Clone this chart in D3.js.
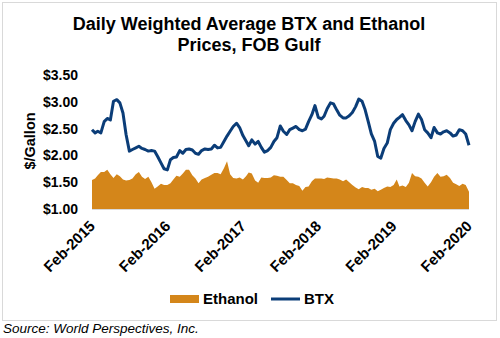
<!DOCTYPE html>
<html>
<head>
<meta charset="utf-8">
<script src="https://cdn.jsdelivr.net/npm/d3@7"></script>
<style>
  body { margin: 0; background: #fff; }
  svg { display: block; font-family: "Liberation Sans", Arial, sans-serif; }
</style>
</head>
<body>
<svg width="500" height="338"></svg>
<script>
// half-month samples starting 1 Feb 2015 (1st and 16th of each month)
const START = new Date(2015, 1, 1)
const btx = [
  2.48, 2.42, 2.45, 2.42, 2.63, 2.69, 2.66, 3.01, 3.04, 2.98,
  2.79, 2.39, 2.08, 2.11, 2.14, 2.17, 2.13, 2.11, 2.08, 2.09,
  2.08, 1.98, 1.86, 1.75, 1.73, 1.92, 1.96, 1.97, 2.09, 2.04,
  2.11, 2.12, 2.10, 2.04, 2.02, 2.09, 2.12, 2.11, 2.12, 2.19,
  2.14, 2.15, 2.26, 2.36, 2.45, 2.54, 2.60, 2.52, 2.37, 2.27,
  2.18, 2.29, 2.21, 2.26, 2.15, 2.06, 2.09, 2.15, 2.26, 2.33,
  2.55, 2.45, 2.39, 2.48, 2.51, 2.54, 2.48, 2.46, 2.49, 2.63,
  2.76, 2.93, 2.71, 2.68, 2.73, 2.87, 2.98, 2.96, 2.85, 2.75,
  2.70, 2.70, 2.74, 2.80, 2.91, 3.05, 3.01, 2.85, 2.63, 2.40,
  2.26, 1.98, 1.95, 2.13, 2.23, 2.48, 2.60, 2.67, 2.71, 2.76,
  2.65, 2.57, 2.46, 2.63, 2.77, 2.67, 2.48, 2.42, 2.33, 2.52,
  2.42, 2.40, 2.44, 2.46, 2.42, 2.36, 2.38, 2.48, 2.46, 2.40,
  2.19
]
const ethanol = [
  1.54, 1.57, 1.63, 1.69, 1.69, 1.73, 1.65, 1.58, 1.65, 1.61,
  1.55, 1.53, 1.54, 1.57, 1.65, 1.69, 1.60, 1.56, 1.60, 1.50,
  1.38, 1.42, 1.47, 1.45, 1.45, 1.48, 1.55, 1.62, 1.60, 1.66,
  1.73, 1.73, 1.63, 1.57, 1.48, 1.55, 1.58, 1.60, 1.64, 1.67,
  1.67, 1.65, 1.76, 1.89, 1.65, 1.58, 1.57, 1.59, 1.55, 1.61,
  1.68, 1.66, 1.53, 1.49, 1.59, 1.58, 1.58, 1.59, 1.63, 1.62,
  1.60, 1.60, 1.54, 1.48, 1.48, 1.45, 1.43, 1.34, 1.41, 1.42,
  1.52, 1.57, 1.57, 1.57, 1.56, 1.59, 1.58, 1.57, 1.57, 1.55,
  1.52, 1.55, 1.50, 1.45, 1.40, 1.37, 1.41, 1.39, 1.39, 1.36,
  1.38, 1.33, 1.36, 1.39, 1.42, 1.41, 1.45, 1.55, 1.42, 1.44,
  1.41, 1.49, 1.67, 1.61, 1.60, 1.57, 1.49, 1.42, 1.50, 1.60,
  1.67, 1.60, 1.61, 1.64, 1.58, 1.49, 1.46, 1.43, 1.47, 1.45,
  1.32
]
const yTicks = [1, 1.5, 2, 2.5, 3, 3.5]
const xTickLabels = ['Feb-2015', 'Feb-2016', 'Feb-2017', 'Feb-2018', 'Feb-2019', 'Feb-2020']
const xTicks = xTickLabels.map((d, i) => new Date(2015 + i, 1, 1))

const ORANGE = '#D4861A'
const BLUE = '#0B3D78'

const dateAt = i => d3.timeDay.offset(d3.timeMonth.offset(START, Math.floor(i / 2)), i % 2 ? 15 : 0)
const btxData = btx.map((v, i) => [dateAt(i), v])
const ethData = ethanol.map((v, i) => [dateAt(i), v])

const svg = d3.select('svg')

svg.append('rect')
  .attr('x', 2.5).attr('y', 2.5)
  .attr('width', 494).attr('height', 318)
  .attr('fill', '#fff')
  .attr('stroke', '#d9d9d9')

const x = d3.scaleTime().domain([xTicks[0], xTicks[5]]).range([92, 469])
const y = d3.scaleLinear().domain([1, 3.5]).range([209, 75])

// title
svg.append('text')
  .attr('x', 249).attr('text-anchor', 'middle')
  .style('font-weight', 'bold').style('font-size', '18px')
  .selectAll('tspan')
  .data(['Daily Weighted Average BTX and Ethanol', 'Prices, FOB Gulf'])
  .join('tspan')
  .attr('x', 249)
  .attr('y', (d, i) => 30 + i * 20.5)
  .text(d => d)

// ethanol area
svg.append('path')
  .datum(ethData)
  .attr('fill', ORANGE)
  .attr('d', d3.area().x(d => x(d[0])).y0(y(1)).y1(d => y(d[1])))

// btx line
svg.append('path')
  .datum(btxData)
  .attr('fill', 'none')
  .attr('stroke', BLUE)
  .attr('stroke-width', 3)
  .attr('stroke-linejoin', 'round')
  .attr('d', d3.line().x(d => x(d[0])).y(d => y(d[1])))

// x axis
svg.append('line')
  .attr('x1', 92).attr('x2', 469)
  .attr('y1', y(1) + 0.5).attr('y2', y(1) + 0.5)
  .attr('stroke', '#d9d9d9')

svg.append('g')
  .selectAll('text')
  .data(xTicks)
  .join('text')
  .attr('transform', d => `translate(${x(d) + 4},${227}) rotate(-45)`)
  .attr('text-anchor', 'end')
  .style('font-weight', 'bold').style('font-size', '15px')
  .text((d, i) => xTickLabels[i])

// y axis labels
svg.append('g')
  .selectAll('text')
  .data(yTicks)
  .join('text')
  .attr('x', 78).attr('y', d => y(d))
  .attr('dy', '0.36em')
  .attr('text-anchor', 'end')
  .style('font-weight', 'bold').style('font-size', '14px')
  .text(d => '$' + d.toFixed(2))

svg.append('text')
  .attr('transform', 'translate(35,141) rotate(-90)')
  .attr('text-anchor', 'middle')
  .style('font-weight', 'bold').style('font-size', '14.5px')
  .text('$/Gallon')

// legend
const leg = svg.append('g')
leg.append('rect')
  .attr('x', 170).attr('y', 295).attr('width', 29).attr('height', 8)
  .attr('fill', ORANGE)
leg.append('text')
  .attr('x', 203).attr('y', 299).attr('dy', '0.36em')
  .style('font-weight', 'bold').style('font-size', '15px')
  .text('Ethanol')
leg.append('line')
  .attr('x1', 271).attr('x2', 300).attr('y1', 299).attr('y2', 299)
  .attr('stroke', BLUE).attr('stroke-width', 3)
leg.append('text')
  .attr('x', 304).attr('y', 299).attr('dy', '0.36em')
  .style('font-weight', 'bold').style('font-size', '15px')
  .text('BTX')

// source
svg.append('text')
  .attr('x', 3).attr('y', 333)
  .style('font-style', 'italic').style('font-size', '13.5px')
  .text('Source: World Perspectives, Inc.')
</script>
</body>
</html>
